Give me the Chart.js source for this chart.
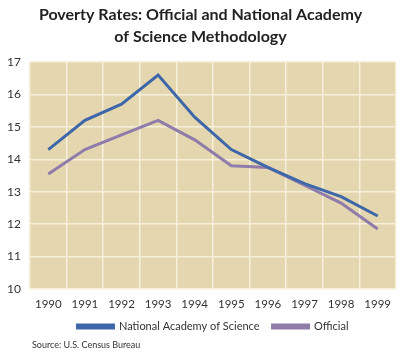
<!DOCTYPE html>
<html>
<head>
<meta charset="utf-8">
<script src="https://cdn.jsdelivr.net/npm/chart.js@4"></script>
<style>
html,body{margin:0;padding:0;background:#fff;}
#wrap{width:400px;height:352px;position:relative;}
</style>
</head>
<body>
<div id="wrap"><canvas id="c" width="400" height="352"></canvas></div>
<script>
const years = ['1990','1991','1992','1993','1994','1995','1996','1997','1998','1999'];
const nasRates = [14.3, 15.2, 15.7, 16.6, 15.3, 14.3, 13.75, 13.25, 12.85, 12.25];
const officialRates = [13.55, 14.3, 14.75, 15.2, 14.6, 13.8, 13.75, 13.2, 12.65, 11.85];
const yTicks = [10, 11, 12, 13, 14, 15, 16, 17];
const sourceNote = 'Source: U.S. Census Bureau';

const bgPlugin = {
  id: 'plotBg',
  beforeDraw(chart) {
    const a = chart.chartArea, ctx = chart.ctx;
    ctx.save();
    ctx.fillStyle = '#e4d6ae';
    ctx.fillRect(a.left, a.top, a.right - a.left, a.bottom - a.top);
    ctx.restore();
  }
};
const sourcePlugin = {
  id: 'sourceNote',
  afterDraw(chart) {
    const ctx = chart.ctx;
    ctx.save();
    ctx.font = '9px Lato';
    ctx.fillStyle = '#333';
    ctx.textBaseline = 'middle';
    ctx.textAlign = 'left';
    ctx.fillText(sourceNote, 32, 345);
    ctx.restore();
  }
};

new Chart(document.getElementById('c'), {
  type: 'line',
  data: {
    labels: years,
    datasets: [
      { label: 'National Academy of Science', data: nasRates, borderColor: '#3d67a9', backgroundColor: '#3d67a9', borderWidth: 3, pointRadius: 0, tension: 0 },
      { label: 'Official', data: officialRates, borderColor: '#8f7cab', backgroundColor: '#8f7cab', borderWidth: 3, pointRadius: 0, tension: 0 }
    ]
  },
  options: {
    responsive: false,
    animation: false,
    devicePixelRatio: 1,
    layout: { padding: { left: 5, right: 4, top: 4, bottom: 10 } },
    plugins: {
      title: {
        display: true,
        text: ['Poverty Rates: Official and National Academy', 'of Science Methodology'],
        font: { family: 'Lato', weight: 'bold', size: 16, lineHeight: 1.375 },
        color: '#222',
        padding: { top: 0, bottom: 14 }
      },
      legend: {
        position: 'bottom',
        fullSize: false,
        labels: {
          boxWidth: 36, boxHeight: 3,
          font: { family: 'Lato', size: 11 },
          color: '#333',
          padding: 13
        }
      },
      tooltip: { enabled: false }
    },
    scales: {
      x: {
        offset: true,
        afterFit(scale) { scale.height = 19; },
        grid: { color: '#f5efdc', lineWidth: 1.5, drawTicks: false, offset: true },
        border: { display: false },
        ticks: { color: '#333', font: { family: 'Lato', size: 11.5 }, padding: 8, maxRotation: 0 }
      },
      y: {
        min: yTicks[0], max: yTicks[yTicks.length - 1],
        afterBuildTicks(scale) { scale.ticks = yTicks.map(v => ({ value: v })); },
        afterFit(scale) { scale.width = 25; },
        grid: { color: '#f5efdc', lineWidth: 1.5, drawTicks: false },
        border: { display: false },
        ticks: { color: '#333', font: { family: 'Lato', size: 12 }, padding: 9 }
      }
    }
  },
  plugins: [bgPlugin, sourcePlugin]
});
</script>
</body>
</html>
